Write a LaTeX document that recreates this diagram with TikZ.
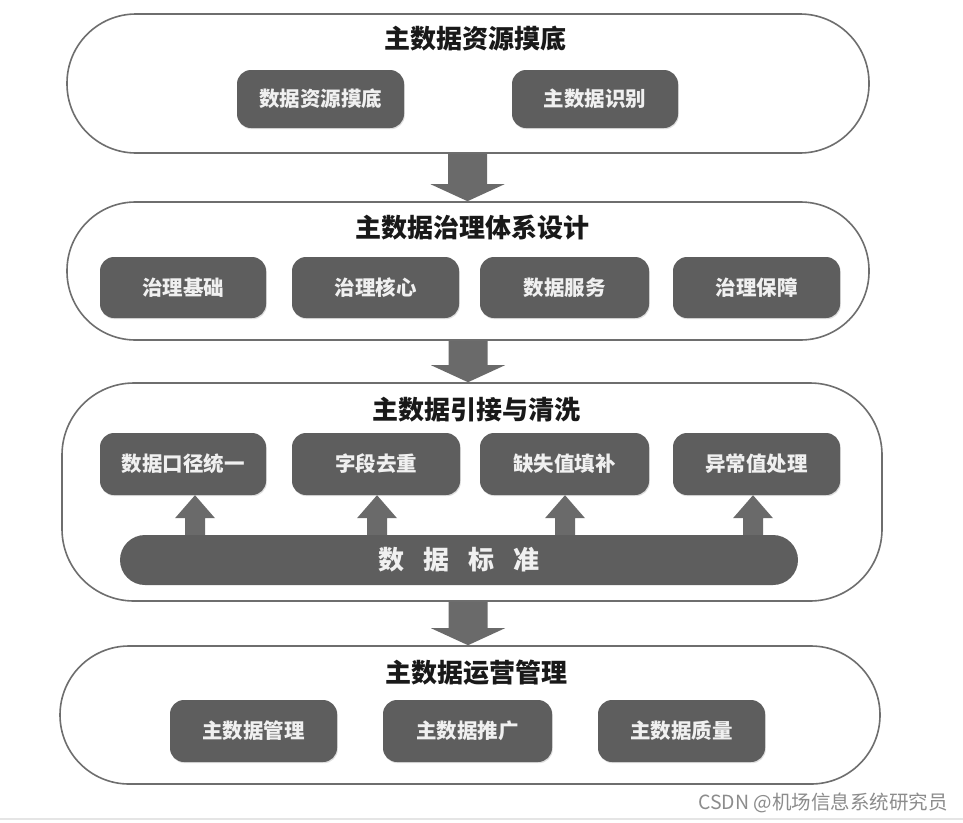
\documentclass[tikz,border=0pt]{standalone}
\usepackage{fontspec}
\setmainfont{Noto Sans CJK SC}
\usetikzlibrary{calc,shadows}
\definecolor{outline}{HTML}{6E6E6E}
\definecolor{boxfill}{HTML}{5E5E5E}
\definecolor{arrfill}{HTML}{6A6A6A}
\definecolor{wmark}{HTML}{8C8C8C}
\newcommand\blockdown[3]{%
 \fill[arrowfill] let \p1=(#1.south), \p2=(#2.north) in
 (#3pt-19.5pt,\y1) -- (#3pt+19.5pt,\y1) -- (#3pt+19.5pt,\y2+17pt) -- (#3pt+37pt,\y2+17pt)
 -- (#3pt,\y2) -- (#3pt-37pt,\y2+17pt) -- (#3pt-19.5pt,\y2+17pt) -- cycle;}
\newcommand\blockup[3]{%
 \fill[arrowfill] let \p1=(#1.north), \p2=(#2.south) in
 (#3pt-10pt,\y1) -- (#3pt+10pt,\y1) -- (#3pt+10pt,\y2-23pt) -- (#3pt+20pt,\y2-23pt)
 -- (#3pt,\y2) -- (#3pt-20pt,\y2-23pt) -- (#3pt-10pt,\y2-23pt) -- cycle;}
\begin{document}
\begin{tikzpicture}[x=1pt,y=-1pt,
  outerbox/.style={draw=outline,line width=1.6pt,fill=white,rectangle,inner sep=0pt},
  titletext/.style={font=\bfseries\fontsize{26}{26}\selectfont,text=black!90,inner sep=0pt},
  innerbox/.style={fill=boxfill,rounded corners=14pt,minimum height=61pt,inner sep=0pt,
     text=white!94!black,font=\bfseries\fontsize{20.5}{20.5}\selectfont,
     drop shadow={opacity=0.25,shadow xshift=0.8pt,shadow yshift=-1.2pt}},
  barbox/.style={fill=boxfill,rounded corners=25pt,minimum width=678pt,minimum height=50pt,inner sep=0pt,
     text=white!94!black,font=\bfseries\fontsize{26}{26}\selectfont},
  arrowfill/.style={fill=arrfill},
  wm/.style={text=wmark,font=\fontsize{19.5}{19.5}\selectfont,inner sep=0pt,anchor=east}
]
\useasboundingbox (0,0) rectangle (963,822);
\fill[white] (0,0) rectangle (963,822);
\draw[line width=1.5pt,color=black!10] (0,819) -- (963,819);

% outer boxes
\node[outerbox,rounded corners=69pt,minimum width=802pt,minimum height=139pt] (b1) at (468,83.5) {};
\node[outerbox,rounded corners=68.5pt,minimum width=802pt,minimum height=138pt] (b2) at (468,271) {};
\node[outerbox,rounded corners=72pt,minimum width=820pt,minimum height=218pt] (b3) at (472,492) {};
\node[outerbox,rounded corners=69pt,minimum width=820pt,minimum height=138pt] (b4) at (470,715) {};

% titles
\node[titletext] (t1) at (475,39) {主数据资源摸底};
\node[titletext] (t2) at (472,228) {主数据治理体系设计};
\node[titletext] (t3) at (476,410) {主数据引接与清洗};
\node[titletext] (t4) at (476,673) {主数据运营管理};

% box 1
\node[innerbox,minimum width=167pt,minimum height=58pt] (a1) at (320.5,99) {数据资源摸底};
\node[innerbox,minimum width=166pt,minimum height=58pt] (a2) at (595,99) {主数据识别};

% box 2
\node[innerbox,minimum width=166pt] (g1) at (183,287.5) {治理基础};
\node[innerbox,minimum width=167pt] (g2) at (375.5,287.5) {治理核心};
\node[innerbox,minimum width=169pt] (g3) at (564.5,287.5) {数据服务};
\node[innerbox,minimum width=167pt] (g4) at (756.5,287.5) {治理保障};

% box 3
\node[innerbox,minimum width=166pt,minimum height=62pt] (c1) at (183,464) {数据口径统一};
\node[innerbox,minimum width=168pt,minimum height=62pt] (c2) at (376,464) {字段去重};
\node[innerbox,minimum width=169pt,minimum height=62pt] (c3) at (564.5,464) {缺失值填补};
\node[innerbox,minimum width=167pt,minimum height=62pt] (c4) at (756.5,464) {异常值处理};
\node[barbox] (bar) at (459,560) {数\hspace{19pt}据\hspace{19pt}标\hspace{19pt}准};

% box 4
\node[innerbox,minimum width=167pt,minimum height=62pt] (d1) at (253.5,731) {主数据管理};
\node[innerbox,minimum width=169pt,minimum height=62pt] (d2) at (467.5,731) {主数据推广};
\node[innerbox,minimum width=167pt,minimum height=62pt] (d3) at (681.5,731) {主数据质量};

% block arrows
\blockdown{b1}{b2}{467.5}
\blockdown{b2}{b3}{468}
\blockdown{b3}{b4}{468}
\blockup{bar}{c1}{195}
\blockup{bar}{c2}{377}
\blockup{bar}{c3}{565}
\blockup{bar}{c4}{753}

% watermark
\node[wm] (w) at (948,803) {CSDN @机场信息系统研究员};
\end{tikzpicture}
\end{document}
